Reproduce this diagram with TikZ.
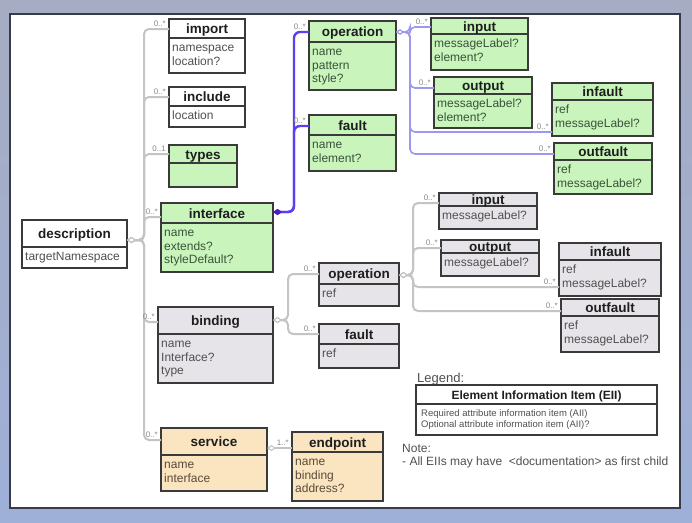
\documentclass[tikz,border=0pt]{standalone}
\usepackage{fontspec}
\setmainfont{Liberation Sans}
\usetikzlibrary{arrows.meta}
\definecolor{greenfill}{HTML}{C9F5BD}
\definecolor{greyfill}{HTML}{E6E4E8}
\definecolor{tanfill}{HTML}{FBE5C0}
\definecolor{boxline}{HTML}{3A3A3A}
\definecolor{conngrey}{HTML}{C4C4C4}
\definecolor{bluemain}{HTML}{5A40F0}
\definecolor{bluelight}{HTML}{9C98F0}
\definecolor{bluediamond}{HTML}{4A1FC8}
\definecolor{titlecol}{HTML}{1E1E1E}
\definecolor{attrgrey}{HTML}{505050}
\definecolor{attrgreen}{HTML}{3A523A}
\definecolor{attrtan}{HTML}{5A4A38}
\definecolor{multcol}{HTML}{8A8A8A}
\definecolor{panelborder}{HTML}{383C48}
\definecolor{slidetop}{HTML}{A6ACC2}
\definecolor{slidebot}{HTML}{9EB0D8}
\newcommand\umlbox[9]{%
  \node[boxbase,#7,minimum width={(#4-#2)*1pt},minimum height={(#5-#3)*1pt}] (#1) at ({(#2+#4)/2},{(#3+#5)/2}) {};
  \draw[divline] (#1.west |- 0,#6) -- (#1.east |- 0,#6);
  \node[titletext] (#1-t) at ({(#2+#4)/2},{(#3+#6)/2+5}) {#8};
  \foreach \a [count=\i] in {#9} {\node[attrtext,#7-a] (#1-a\i) at ({#2+3},{#6+13.5+(\i-1)*13.7}) {\a};}
}
\tikzset{
  boxbase/.style={draw=boxline, line width=1.3pt, inner sep=0pt, outer sep=0pt},
  divline/.style={draw=boxline, line width=1.3pt},
  whitebox/.style={fill=white}, greenbox/.style={fill=greenfill},
  greybox/.style={fill=greyfill}, tanbox/.style={fill=tanfill},
  whitebox-a/.style={text=attrgrey}, greenbox-a/.style={text=attrgreen},
  greybox-a/.style={text=attrgrey}, tanbox-a/.style={text=attrtan},
  titletext/.style={anchor=base, inner sep=0pt, font=\fontsize{13.5}{14}\selectfont\bfseries, text=titlecol},
  attrtext/.style={anchor=base west, inner sep=0pt, font=\fontsize{12}{13}\selectfont},
  multtext/.style={anchor=south east, inner sep=0pt, font=\fontsize{8}{9}\selectfont, text=multcol, xshift=-3pt, yshift=2pt},
  gconn/.style={draw=conngrey, line width=2pt, rounded corners=5pt},
  gsrc/.style={arrows={{Diamond[fill=white,length=9pt,width=6pt,line width=1.1pt]}-}},
  bconn/.style={draw=bluemain, line width=2.4pt, rounded corners=6pt},
  bsrc/.style={arrows={{Diamond[fill=bluediamond,color=bluediamond,length=9pt,width=6pt]}-}},
  lconn/.style={draw=bluelight, line width=1.6pt, rounded corners=5pt},
  lsrc/.style={arrows={{Diamond[fill=white,length=8pt,width=5pt,line width=1pt]}-}},
}
\begin{document}
\begin{tikzpicture}[x=1pt,y=-1pt]
\useasboundingbox (0,0) rectangle (692,522);
\shade[top color=slidetop, bottom color=slidebot] (0,0) rectangle (692,522);
\node[draw=panelborder, line width=2pt, fill=white, inner sep=0pt, minimum width=670pt, minimum height=494pt] (panel) at (345,261) {};
% boxes
\umlbox{desc}{22}{220}{127}{268}{247}{whitebox}{description}{targetNamespace}
\umlbox{imp}{169}{19}{245}{73}{38}{whitebox}{import}{namespace,location?}
\umlbox{inc}{169}{87}{245}{127}{106}{whitebox}{include}{location}
\umlbox{types}{169}{145}{237}{187}{163}{greenbox}{types}{}
\umlbox{intf}{161}{203}{273}{272}{223}{greenbox}{interface}{name,extends?,styleDefault?}
\umlbox{gop}{309}{21}{396}{90}{42}{greenbox}{operation}{name,pattern,style?}
\umlbox{gfault}{309}{115}{396}{171}{135}{greenbox}{fault}{name,element?}
\umlbox{gin}{431}{18}{528}{70}{34}{greenbox}{input}{messageLabel?,element?}
\umlbox{gout}{434}{77}{532}{128}{94}{greenbox}{output}{messageLabel?,element?}
\umlbox{ginf}{552}{83}{653}{136}{100}{greenbox}{infault}{ref,messageLabel?}
\umlbox{goutf}{554}{143}{652}{194}{160}{greenbox}{outfault}{ref,messageLabel?}
\umlbox{bind}{158}{307}{273}{383}{334}{greybox}{binding}{name,Interface?,type}
\umlbox{bop}{319}{263}{399}{306}{284}{greybox}{operation}{ref}
\umlbox{bfault}{319}{324}{399}{368}{344}{greybox}{fault}{ref}
\umlbox{bin}{439}{193}{537}{229}{206}{greybox}{input}{messageLabel?}
\umlbox{bout}{441}{240}{539}{276}{253}{greybox}{output}{messageLabel?}
\umlbox{binf}{559}{243}{661}{296}{260}{greybox}{infault}{ref,messageLabel?}
\umlbox{boutf}{561}{299}{659}{352}{316}{greybox}{outfault}{ref,messageLabel?}
\umlbox{serv}{161}{428}{267}{491}{455}{tanbox}{service}{name,interface}
\umlbox{endp}{292}{432}{383}{501}{452}{tanbox}{endpoint}{name,binding,address?}
% connectors
\foreach \t/\y in {imp/29,inc/97,types/154,intf/217,bind/322,serv/440}
  \draw[gconn,gsrc] (desc.east |- 0,240) -- (144,240) |- (\t.west |- 0,\y);
\foreach \t/\y in {gop/32,gfault/126}
  \draw[bconn,bsrc] (intf.east |- 0,212) -- (294,212) |- (\t.west |- 0,\y);
\foreach \t/\y in {gin/27,gout/88,ginf/132,goutf/154}
  \draw[lconn,lsrc] (gop.east |- 0,32) -- (410,32) |- (\t.west |- 0,\y);
\foreach \t/\y in {bop/274,bfault/334}
  \draw[gconn,gsrc] (bind.east |- 0,320) -- (288,320) |- (\t.west |- 0,\y);
\foreach \t/\y in {bin/203,bout/248,binf/287,boutf/311}
  \draw[gconn,gsrc] (bop.east |- 0,275) -- (413,275) |- (\t.west |- 0,\y);
\draw[gconn,gsrc] (serv.east |- 0,448) -- (endp.west |- 0,448);
% multiplicities
\foreach \t/\y/\m in {imp/29/0..*,inc/97/0..*,types/154/0..1,intf/217/0..*,bind/322/0..*,serv/440/0..*,
  gop/32/0..*,gfault/126/0..*,gin/27/0..*,gout/88/0..*,ginf/132/0..*,goutf/154/0..*,
  bop/274/0..*,bfault/334/0..*,bin/203/0..*,bout/248/0..*,binf/287/0..*,boutf/311/0..*,endp/448/1..*}
  \node[multtext] (m-\t) at (\t.west |- 0,\y) {\m};
% legend
\node[anchor=base west, inner sep=0pt, font=\fontsize{13}{14}\selectfont, text=attrgrey] (leglabel) at (417,382) {Legend:};
\node[boxbase, fill=white, minimum width=241pt, minimum height=50pt] (leg) at (536.5,410) {};
\draw[divline] (leg.west |- 0,404) -- (leg.east |- 0,404);
\node[anchor=base, inner sep=0pt, font=\fontsize{12}{13}\selectfont\bfseries, text=titlecol] (legt) at (536.5,399) {Element Information Item (EII)};
\node[anchor=base west, inner sep=0pt, font=\fontsize{9.5}{10}\selectfont, text=attrgrey] (leg1) at (421,416) {Required attribute information item (AII)};
\node[anchor=base west, inner sep=0pt, font=\fontsize{9.5}{10}\selectfont, text=attrgrey] (leg2) at (421,427.5) {Optional attribute information item (AII)?};
\node[anchor=base west, inner sep=0pt, font=\fontsize{12}{13}\selectfont, text=attrgrey] (note) at (402,452) {Note:};
\node[anchor=base west, inner sep=0pt, font=\fontsize{12}{13}\selectfont, text=attrgrey] (note1) at (402,465.5) {- All EIIs may have \ \textless documentation\textgreater\ as first child};
\end{tikzpicture}
\end{document}
